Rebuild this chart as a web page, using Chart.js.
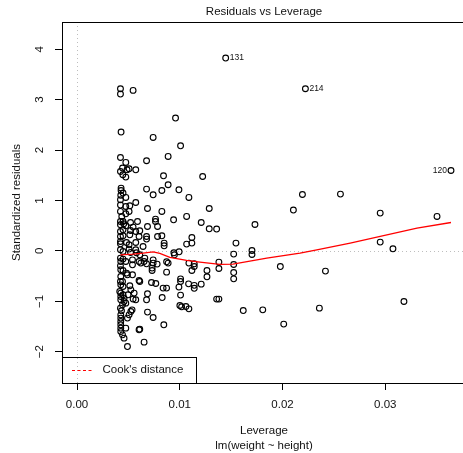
<!DOCTYPE html>
<html>
<head>
<meta charset="utf-8">
<script src="https://cdn.jsdelivr.net/npm/chart.js@4/dist/chart.umd.min.js"></script>
<style>
  html, body { margin: 0; padding: 0; background: #fff; overflow: hidden; }
  #wrap { width: 463px; height: 453px; overflow: hidden; position: relative; }
  canvas { display: block; }
</style>
</head>
<body>
<div id="wrap"><canvas id="c" width="480" height="453"></canvas></div>
<script>
// Leverage (hat values) of each observation in lm(weight ~ height)
const leverage = [
  0.01447, 0.02223, 0.03640, 0.01223, 0.02194, 0.02564, 0.01287, 0.02106, 0.02951, 0.03504,
  0.01209, 0.01732, 0.01287, 0.01359, 0.01547, 0.02951, 0.03075, 0.01703, 0.01703, 0.01525,
  0.01381, 0.01525, 0.01979, 0.01381, 0.01265, 0.02418, 0.01525, 0.01265, 0.01525, 0.01209,
  0.01359, 0.01381, 0.03182, 0.01618, 0.01808, 0.02359, 0.02012,
  0.00959, 0.00741, 0.01008, 0.00677, 0.00887, 0.00842, 0.00677, 0.00741, 0.00826, 0.00887,
  0.00992, 0.01089, 0.00686, 0.00826, 0.00764, 0.00764, 0.00940, 0.01067, 0.00611, 0.00686,
  0.00784, 0.00677, 0.00677, 0.00784, 0.00826, 0.01118, 0.01067, 0.01118, 0.00848, 0.00848,
  0.00643, 0.00943, 0.00948, 0.00994, 0.00611, 0.00660, 0.00653, 0.00677, 0.00741, 0.00741,
  0.00731, 0.00731, 0.00780, 0.00872, 0.00887, 0.00872, 0.01089, 0.01141, 0.01141, 0.01118,
  0.00611, 0.00725, 0.00767, 0.01008, 0.01008, 0.01086, 0.01141, 0.01141, 0.00838, 0.00872,
  0.00992, 0.00686, 0.00677, 0.00829, 0.01008, 0.01001, 0.01018, 0.01060, 0.01089, 0.00686,
  0.00741, 0.00845, 0.00611, 0.00653,
  0.00423, 0.00423, 0.00546, 0.00429, 0.00423, 0.00475, 0.00443, 0.00487, 0.00572, 0.00423,
  0.00475, 0.00429, 0.00429, 0.00448, 0.00475, 0.00423, 0.00572, 0.00514, 0.00423, 0.00475,
  0.00423, 0.00475, 0.00426, 0.00436, 0.00507, 0.00423, 0.00448, 0.00455, 0.00423, 0.00475,
  0.00521, 0.00546, 0.00589, 0.00423, 0.00448, 0.00521, 0.00572, 0.00423, 0.00448, 0.00514,
  0.00604, 0.00423, 0.00423, 0.00482, 0.00572, 0.00507, 0.00423, 0.00448, 0.00507, 0.00572,
  0.00521, 0.00579, 0.00423, 0.00448, 0.00475, 0.00540, 0.00604, 0.00426, 0.00540, 0.00621,
  0.00423, 0.00426, 0.00448, 0.00482, 0.00540, 0.00426, 0.00491, 0.00423, 0.00443, 0.00604,
  0.00426, 0.00448, 0.00514, 0.00524, 0.00416, 0.00426, 0.00448, 0.00426, 0.00458, 0.00426,
  0.00458, 0.00475, 0.00443, 0.00497, 0.00556, 0.00546, 0.00572, 0.00524, 0.00507, 0.00491,
  0.00426, 0.00426, 0.00426, 0.00426, 0.00426, 0.00426, 0.00443, 0.00475, 0.00604, 0.00458,
  0.00491, 0.00423, 0.00433, 0.00536, 0.00507, 0.00446
];

// Standardized residuals, same order as leverage
const stdResid = [
  3.825, 3.216, 1.595, 1.476, 1.119, 1.127, 0.841, 0.810, 0.750, 0.683,
  0.563, 0.524, 0.438, 0.433, 0.155, 0.175, 0.042, 0.008, -0.071, -0.063,
  -0.222, -0.270, -0.310, -0.349, -0.389, -0.401, -0.429, -0.514, -0.554, -0.659,
  -0.956, -0.956, -1.004, -1.183, -1.169, -1.135, -1.452,
  2.635, 2.250, 2.085, 1.788, 1.873, 1.490, 1.226, 1.113, 1.198, 1.312,
  1.212, 1.060, 0.841, 0.782, 0.631, 0.583, 0.617, 0.683, 0.399, 0.484,
  0.484, 0.286, 0.234, 0.286, 0.300, 0.266, 0.135, 0.155, 0.155, 0.101,
  0.087, -0.038, -0.077, -0.018, -0.077, -0.143, -0.210, -0.256, -0.177, -0.242,
  -0.341, -0.389, -0.262, -0.216, -0.242, -0.421, -0.242, -0.256, -0.310, -0.389,
  -0.607, -0.627, -0.647, -0.554, -0.607, -0.653, -0.683, -0.742, -0.738, -0.738,
  -0.718, -0.851, -0.970, -0.925, -0.877, -1.083, -1.109, -1.103, -1.149, -1.214,
  -1.321, -1.466, -1.552, -1.810,
  3.216, 3.111, 3.183, 2.357, 1.853, 1.754, 1.643, 1.609, 1.609, 1.575,
  1.464, 1.246, 1.198, 1.147, 1.060, 1.014, 0.960, 0.895, 0.909, 0.881,
  0.782, 0.736, 1.103, 0.683, 0.782, 0.583, 0.583, 0.538, 0.518, 0.498,
  0.563, 0.472, 0.583, 0.385, 0.419, 0.405, 0.385, 0.286, 0.300, 0.319,
  0.286, 0.187, 0.141, 0.167, 0.167, 0.121, 0.022, -0.012, 0.036, 0.022,
  -0.032, -0.038, -0.143, -0.163, -0.210, -0.177, -0.210, -0.210, -0.276, -0.242,
  -0.296, -0.375, -0.389, -0.440, -0.474, -0.508, -0.474, -0.607, -0.607, -0.587,
  -0.673, -0.706, -0.692, -0.772, -0.806, -0.837, -0.871, -0.905, -0.937, -0.970,
  -1.004, -1.036, -1.069, -0.871, -0.837, -0.956, -0.970, -1.202, -1.268, -1.333,
  -1.268, -1.333, -1.401, -1.466, -1.532, -1.599, -1.665, -1.532, -1.565, -1.730,
  -1.897, -1.135, -1.188, -1.169, 1.629, 1.510
];

// Observations named beside their points: index into the arrays, id, side
const labelIndex = [0, 1, 2];
const labelIds = ["131", "214", "120"];
const labelSide = ["right", "right", "left"];

// Smoothed trend of the residuals against leverage
const smoothLev = [0.00423, 0.00546, 0.00643, 0.00741, 0.00806, 0.00904, 0.01067, 0.01196,
  0.01391, 0.01518, 0.01847, 0.02171, 0.02334, 0.02659, 0.02951, 0.03309, 0.03640];
const smoothRes = [-0.077, -0.063, -0.044, -0.018, -0.048, -0.127, -0.187, -0.222,
  -0.266, -0.262, -0.143, -0.044, 0.022, 0.155, 0.286, 0.452, 0.563];

// Axis ticks and ranges
const xTicks = [0, 0.01, 0.02, 0.03];
const yTicks = [-2, -1, 0, 1, 2, 3, 4];
const xRange = [-0.00146, 0.03786];
const yRange = [-2.62, 4.54];

const mainTitle = "Residuals vs Leverage";
const xTitle = "Leverage";
const subTitle = "lm(weight ~ height)";
const yTitle = "Standardized residuals";
const legendText = "Cook's distance";

const FAMILY = '"Liberation Sans", Arial, Helvetica, sans-serif';
const FS = 11.5;

const fmtY = v => (v < 0 ? "\u2212" + Math.abs(v) : String(v));

const basePlot = {
  id: 'basePlot',
  beforeDatasetsDraw(chart) {
    const { ctx, chartArea: a, scales: { x, y } } = chart;
    ctx.save();
    ctx.strokeStyle = '#bebebe';
    ctx.lineWidth = 1;
    ctx.setLineDash([1, 3]);
    const px0 = Math.round(x.getPixelForValue(0)) + 0.5;
    const py0 = Math.round(y.getPixelForValue(0)) + 0.5;
    ctx.beginPath();
    ctx.moveTo(px0, a.top); ctx.lineTo(px0, a.bottom);
    ctx.moveTo(a.left, py0); ctx.lineTo(a.right, py0);
    ctx.stroke();
    ctx.restore();
  },
  afterDraw(chart) {
    const { ctx, chartArea: a, scales: { x, y } } = chart;
    ctx.save();
    // frame
    ctx.strokeStyle = '#000';
    ctx.lineWidth = 1;
    ctx.strokeRect(Math.round(a.left) + 0.5, Math.round(a.top) + 0.5,
      Math.round(a.right - a.left), Math.round(a.bottom - a.top));

    ctx.fillStyle = '#111';
    ctx.font = FS + 'px ' + FAMILY;
    ctx.textAlign = 'center';
    ctx.textBaseline = 'middle';
    const cx = (a.left + a.right) / 2;
    ctx.fillText(mainTitle, cx, 12);
    ctx.fillText(xTitle, cx, 431);
    ctx.fillText(subTitle, cx, 446);

    ctx.save();
    ctx.translate(17, (a.top + a.bottom) / 2);
    ctx.rotate(-Math.PI / 2);
    ctx.fillText(yTitle, 0, 0);
    ctx.restore();

    // y tick labels, parallel to the axis
    yTicks.forEach(v => {
      ctx.save();
      ctx.translate(40, y.getPixelForValue(v));
      ctx.rotate(-Math.PI / 2);
      ctx.fillText(fmtY(v), 0, 0);
      ctx.restore();
    });

    // ids of the most extreme observations
    ctx.font = '8.5px ' + FAMILY;
    labelIndex.forEach((idx, k) => {
      const px = x.getPixelForValue(leverage[idx]);
      const py = y.getPixelForValue(stdResid[idx]);
      if (labelSide[k] === 'right') {
        ctx.textAlign = 'left';
        ctx.fillText(labelIds[k], px + 4, py);
      } else {
        ctx.textAlign = 'right';
        ctx.fillText(labelIds[k], px - 4, py);
      }
    });

    // legend for the Cook's distance contours
    const lx = Math.round(a.left), lb = Math.round(a.bottom);
    ctx.strokeStyle = '#000';
    ctx.strokeRect(lx + 0.5, 357.5, 196 - lx, lb - 357);
    ctx.strokeStyle = '#ff0000';
    ctx.setLineDash([3, 2.5]);
    ctx.beginPath();
    ctx.moveTo(72, 370.5); ctx.lineTo(92, 370.5);
    ctx.stroke();
    ctx.setLineDash([]);
    ctx.font = FS + 'px ' + FAMILY;
    ctx.textAlign = 'left';
    ctx.fillStyle = '#111';
    ctx.fillText(legendText, 102.5, 370);
    ctx.restore();
  }
};

new Chart(document.getElementById('c'), {
  type: 'scatter',
  data: {
    datasets: [
      {
        type: 'line',
        data: smoothLev.map((v, i) => ({ x: v, y: smoothRes[i] })),
        borderColor: '#ff0000',
        borderWidth: 1.3,
        pointRadius: 0,
        tension: 0,
        fill: false
      },
      {
        type: 'scatter',
        data: leverage.map((v, i) => ({ x: v, y: stdResid[i] })),
        pointStyle: 'circle',
        pointRadius: 2.9,
        pointBorderWidth: 1.1,
        pointBorderColor: '#000',
        pointBackgroundColor: 'rgba(0,0,0,0)',
        borderColor: '#000',
        backgroundColor: 'rgba(0,0,0,0)'
      }
    ]
  },
  options: {
    responsive: false,
    animation: false,
    devicePixelRatio: 1,
    layout: { padding: { left: 0, right: 14, top: 22, bottom: 0 } },
    plugins: {
      legend: { display: false },
      tooltip: { enabled: false },
      title: { display: false }
    },
    scales: {
      x: {
        type: 'linear',
        position: 'bottom',
        min: xRange[0],
        max: xRange[1],
        afterFit(s) { s.height = 70; },
        afterBuildTicks(s) { s.ticks = xTicks.map(v => ({ value: v })); },
        ticks: {
          autoSkip: false, maxRotation: 0, minRotation: 0, padding: 8,
          color: '#111', font: { family: FAMILY, size: FS },
          callback: v => Number(v).toFixed(2)
        },
        grid: { display: true, drawOnChartArea: false, drawTicks: true, tickLength: 7, color: '#000', lineWidth: 1 },
        border: { display: false }
      },
      y: {
        type: 'linear',
        position: 'left',
        min: yRange[0],
        max: yRange[1],
        afterFit(s) { s.width = 62; },
        afterBuildTicks(s) { s.ticks = yTicks.map(v => ({ value: v })); },
        ticks: { display: false },
        grid: { display: true, drawOnChartArea: false, drawTicks: true, tickLength: 7, color: '#000', lineWidth: 1 },
        border: { display: false }
      }
    }
  },
  plugins: [basePlot]
});
</script>
</body>
</html>
